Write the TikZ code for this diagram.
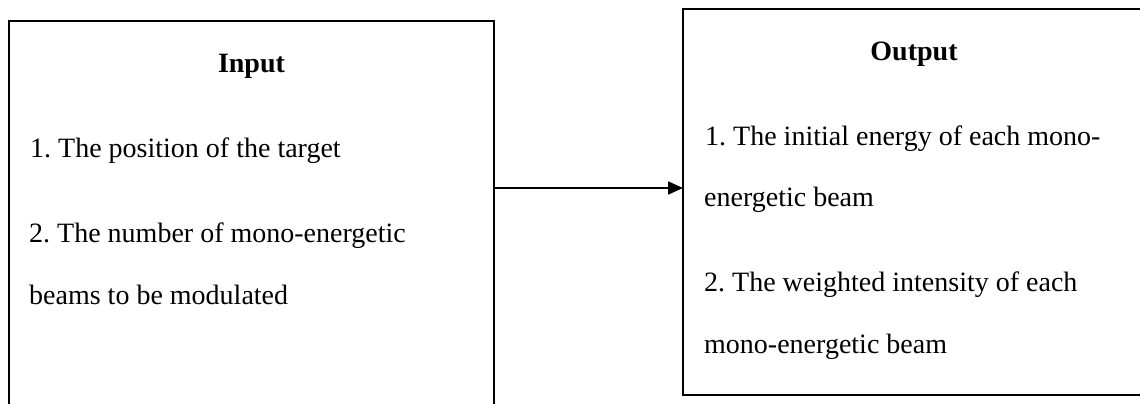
\documentclass[tikz,border=0pt]{standalone}
\usepackage{fontspec}
\setmainfont{Liberation Serif}
\usetikzlibrary{arrows.meta}
\frenchspacing

\tikzset{
  panel/.style={draw=black, line width=2pt, inner sep=0pt, outer sep=0pt, anchor=north west},
  label/.style={inner sep=0pt, anchor=base west, font=\fontsize{28}{34}\selectfont},
  heading/.style={inner sep=0pt, anchor=base, font=\fontsize{28}{34}\selectfont\bfseries},
  flow/.style={draw=black, line width=2pt, -{Triangle[length=15pt,width=13pt]}}
}

\begin{document}
\begin{tikzpicture}[x=1pt, y=-1pt]
  \useasboundingbox (0,0) rectangle (1140,404);
  \clip (0,0) rectangle (1140,404);

  % the two panels (both run past the page edge)
  \node[panel, minimum width=485pt, minimum height=420pt] (inbox) at (9,21) {};
  \node[panel, minimum width=462pt, minimum height=386pt] (outbox) at (683,9) {};

  % input panel text
  \node[heading] (inhead) at (251.5,73) {Input};
  \node[label] (in1) at (30,157) {1. The position of the target};
  \node[label] (in2a) at (29,242) {2. The number of mono-energetic};
  \node[label] (in2b) at (29,304) {beams to be modulated};

  % output panel text
  \node[heading] (outhead) at (914,61) {Output};
  \node[label] (out1a) at (705,145) {1. The initial energy of each mono-};
  \node[label] (out1b) at (704,206) {energetic beam};
  \node[label] (out2a) at (704,291) {2. The weighted intensity of each};
  \node[label] (out2b) at (704,353) {mono-energetic beam};

  % connector between the panels
  \coordinate (level) at (0,188);
  \draw[flow] (inbox.east |- level) -- (outbox.west |- level);
\end{tikzpicture}
\end{document}
